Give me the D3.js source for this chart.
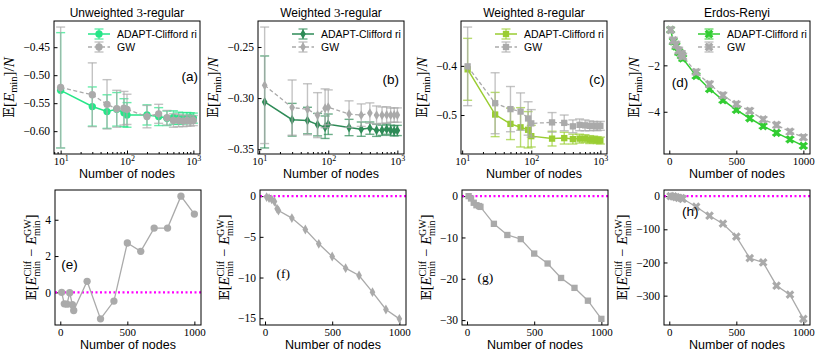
<!DOCTYPE html>
<html>
<head>
<meta charset="utf-8">
<script src="https://cdn.jsdelivr.net/npm/d3@7"></script>
<style>
  body { margin: 0; background: #fff; }
</style>
</head>
<body>
<svg id="chart" width="822" height="360"></svg>
<script>
// ---- data ----
const nodesA = [10, 30, 50, 70, 90, 100, 200, 300, 400, 500, 600, 700, 800, 900, 1000];
const nodesB = [12, 30, 50, 70, 90, 100, 200, 300, 400, 500, 600, 700, 800, 900, 1000];

// (a) unweighted 3-regular, E[E_min]/N
const adaptU3 = [-0.527, -0.556, -0.565, -0.561, -0.567, -0.571, -0.571, -0.574, -0.577, -0.5756, -0.577, -0.577, -0.5766, -0.576, -0.5767];
const adaptU3Err = [0.103, 0.035, 0.03, 0.03, 0.025, 0.022, 0.018, 0.016, 0.013, 0.012, 0.011, 0.01, 0.01, 0.009, 0.009];
const gwU3 = [-0.522, -0.535, -0.552, -0.560, -0.559, -0.561, -0.574, -0.569, -0.576, -0.581, -0.581, -0.582, -0.581, -0.582, -0.581];
const gwU3Err = [0.108, 0.057, 0.044, 0.033, 0.03, 0.027, 0.02, 0.017, 0.013, 0.012, 0.011, 0.01, 0.01, 0.009, 0.009];

// (b) weighted 3-regular
const adaptW3 = [-0.3038, -0.3212, -0.322, -0.326, -0.3285, -0.3256, -0.3288, -0.3304, -0.3294, -0.3315, -0.3315, -0.3304, -0.3315, -0.3321, -0.3317];
const adaptW3Err = [0.045, 0.016, 0.013, 0.011, 0.011, 0.010, 0.008, 0.007, 0.006, 0.006, 0.005, 0.005, 0.005, 0.005, 0.005];
const gwW3 = [-0.2875, -0.3093, -0.311, -0.3167, -0.310, -0.309, -0.3157, -0.3167, -0.3147, -0.3167, -0.3167, -0.3165, -0.3167, -0.3166, -0.3166];
const gwW3Err = [0.057, 0.027, 0.025, 0.022, 0.019, 0.017, 0.013, 0.011, 0.010, 0.009, 0.008, 0.008, 0.007, 0.007, 0.007];

// (c) weighted 8-regular
const adaptW8 = [-0.407, -0.499, -0.518, -0.525, -0.530, -0.543, -0.548, -0.547, -0.549, -0.548, -0.548, -0.550, -0.550, -0.551, -0.552];
const adaptW8Err = [0.063, 0.045, 0.032, 0.04, 0.037, 0.022, 0.015, 0.012, 0.01, 0.009, 0.008, 0.008, 0.007, 0.007, 0.007];
const gwW8 = [-0.401, -0.476, -0.488, -0.493, -0.507, -0.517, -0.515, -0.516, -0.523, -0.520, -0.521, -0.522, -0.522, -0.523, -0.522];
const gwW8Err = [0.08, 0.062, 0.046, 0.038, 0.034, 0.028, 0.02, 0.016, 0.013, 0.012, 0.011, 0.01, 0.009, 0.009, 0.009];

// (d) Erdos-Renyi
const adaptER = [-0.47, -0.97, -1.18, -1.43, -1.57, -1.70, -2.45, -3.02, -3.50, -3.92, -4.28, -4.62, -4.91, -5.19, -5.47];
const adaptERErr = [0.1, 0.12, 0.12, 0.12, 0.12, 0.11, 0.1, 0.1, 0.1, 0.09, 0.09, 0.09, 0.09, 0.09, 0.09];
const gwER = [-0.47, -0.93, -1.11, -1.36, -1.50, -1.61, -2.29, -2.81, -3.29, -3.67, -3.96, -4.33, -4.57, -4.86, -5.10];
const gwERErr = [0.12, 0.14, 0.14, 0.14, 0.13, 0.13, 0.12, 0.12, 0.12, 0.11, 0.11, 0.11, 0.11, 0.11, 0.11];

// (e)-(h) E[E_min^Clif - E_min^GW]
const diffU3 = [0, -0.63, -0.65, -0.02, -0.68, -1.0, 0.61, -1.46, -0.48, 2.72, 2.26, 3.54, 3.54, 5.3, 4.31];
const diffW3 = [-0.12, -0.25, -0.4, -0.66, -1.56, -1.76, -2.7, -4.1, -5.86, -7.42, -8.85, -9.75, -11.8, -13.93, -15.08];
const diffW8 = [0, -0.57, -1.6, -2.2, -2.4, -2.6, -6.7, -9.4, -10.4, -13.9, -16.3, -19.8, -22.2, -25.3, -29.7];
const diffER = [0, -1, -3, -5, -6, -8, -32, -59, -83, -122, -187, -200, -270, -297, -370];

// tick values
const logTicks = [10, 100, 1000];
const linTicks = [0, 500, 1000];
const yTicksU3 = [-0.60, -0.55, -0.50, -0.45];
const yTicksW3 = [-0.35, -0.30, -0.25];
const yTicksW8 = [-0.5, -0.4];
const yTicksER = [-4, -2];
const yTicksDU3 = [0, 2, 4];
const yTicksDW3 = [-15, -10, -5, 0];
const yTicksDW8 = [-30, -20, -10, 0];
const yTicksDER = [-300, -200, -100, 0];

const seriesNames = ['ADAPT-Clifford ri', 'GW'];

// ---- styling ----
const SERIF = '"Liberation Serif", "DejaVu Serif", serif';
const SANS = '"Liberation Sans", "DejaVu Sans", sans-serif';
const GRAY = '#aaaaaa';
const MAGENTA = '#ff00ff';
const W = 146;

const svg = d3.select('#chart');

const markerSize = { circle: 42, diamond: 28, square: 40, x: 48 };
const symbolType = { circle: d3.symbolCircle, diamond: d3.symbolDiamond, square: d3.symbolSquare, x: d3.symbolCross };

function markerPath(kind) {
    return d3.symbol(symbolType[kind], markerSize[kind])();
}
function markerRot(kind) {
    return kind === 'x' ? ' rotate(45)' : '';
}

function makeX(nodes, log, w) {
    const ext = d3.extent(nodes);
    if (log) {
        const l0 = Math.log10(ext[0]), l1 = Math.log10(ext[1]), m = (l1 - l0) * 0.05;
        return d3.scaleLog().domain([10 ** (l0 - m), 10 ** (l1 + m)]).range([0, w]);
    }
    const m = (ext[1] - ext[0]) * 0.05;
    return d3.scaleLinear().domain([ext[0] - m, ext[1] + m]).range([0, w]);
}

function padDomain(lo, hi) {
    const m = (hi - lo) * 0.05;
    return [lo - m, hi + m];
}

function drawAxes(g, x, y, p, w, h) {
    // x axis
    const xAxis = d3.axisBottom(x)
        .tickValues(p.log ? logTicks : linTicks)
        .tickSizeInner(-3.5).tickSizeOuter(0).tickPadding(3.5)
        .tickFormat(p.log ? () => '' : d3.format('d'));
    const xg = g.append('g').attr('transform', `translate(0,${h})`).call(xAxis)
        .attr('font-family', SERIF).attr('font-size', 11);
    xg.select('.domain').remove();
    if (p.log) {
        xg.selectAll('.tick text').each(function (d) {
            const t = d3.select(this);
            t.text('10');
            t.append('tspan').attr('dy', -4.5).attr('font-size', 8).text(Math.round(Math.log10(d)));
        });
        const minor = [];
        [1, 10, 100, 1000].forEach(b => d3.range(2, 10).forEach(m => {
            const v = b * m;
            if (v >= x.domain()[0] && v <= x.domain()[1]) minor.push(v);
        }));
        const mg = g.append('g').attr('transform', `translate(0,${h})`)
            .call(d3.axisBottom(x).tickValues(minor).tickSizeInner(-2).tickSizeOuter(0).tickFormat(() => ''));
        mg.select('.domain').remove();
    }

    // y axis
    const yAxis = d3.axisLeft(y)
        .tickValues(p.yTicks)
        .tickSizeInner(-3.5).tickSizeOuter(0).tickPadding(4)
        .tickFormat(d3.format(p.fmt));
    const yg = g.append('g').call(yAxis)
        .attr('font-family', SERIF).attr('font-size', 11.5);
    yg.select('.domain').remove();
    return yg;
}

function frame(g, w, h) {
    g.append('rect').attr('width', w).attr('height', h)
        .attr('fill', 'none').attr('stroke', '#000').attr('stroke-width', 1);
}

function xLabel(g, w, h) {
    g.append('text').attr('x', w / 2).attr('y', h + 24)
        .attr('text-anchor', 'middle').attr('font-family', SANS).attr('font-size', 12.5)
        .text('Number of nodes');
}

function yLabelTop(g, cx, cy) {
    const t = g.append('text').attr('transform', `translate(${cx},${cy}) rotate(-90)`)
        .attr('text-anchor', 'middle').attr('font-family', SERIF).attr('font-size', 15);
    t.append('tspan').attr('font-family', '"DejaVu Serif", "DejaVu Sans"').attr('font-size', 14).text('𝔼');
    t.append('tspan').text('[');
    t.append('tspan').attr('font-style', 'italic').text('E');
    t.append('tspan').attr('font-size', 10.5).attr('dy', 3).text('min');
    t.append('tspan').attr('dy', -3).text(']/');
    t.append('tspan').attr('font-style', 'italic').text('N');
}

function yLabelDiff(g, cx, cy) {
    const t = g.append('text').attr('transform', `translate(${cx},${cy}) rotate(-90)`)
        .attr('text-anchor', 'middle').attr('font-family', SERIF).attr('font-size', 14.5);
    t.append('tspan').attr('font-family', '"DejaVu Serif", "DejaVu Sans"').attr('font-size', 13.5).text('𝔼');
    t.append('tspan').text('[');
    const pair = (sup, first) => {
        t.append('tspan').attr('font-style', 'italic').attr('dx', first ? 0 : 4).text('E');
        const s1 = t.append('tspan').attr('font-size', 10).attr('dy', -5.5).text(sup);
        const l1 = s1.node().getComputedTextLength();
        const s2 = t.append('tspan').attr('font-size', 10).attr('dx', -l1).attr('dy', 9).text('min');
        const l2 = s2.node().getComputedTextLength();
        return Math.max(0, l1 - l2);
    };
    const gap = pair('Clif', true);
    t.append('tspan').attr('dx', gap + 4).attr('dy', -3.5).text('−');
    const gap2 = pair('GW', false);
    t.append('tspan').attr('dx', gap2).attr('dy', -3.5).text(']');
}

function title(g, w, parts) {
    const t = g.append('text').attr('x', w / 2).attr('y', -4)
        .attr('text-anchor', 'middle').attr('font-family', SANS).attr('font-size', 12);
    parts.forEach(([s, serif]) => {
        const sp = t.append('tspan').text(s);
        if (serif) sp.attr('font-family', SERIF).attr('font-size', 13);
    });
}

function tag(g, w, h, p) {
    g.append('text').attr('x', p.tagAt[0] * w).attr('y', p.tagAt[1] * h + 4.5)
        .attr('text-anchor', 'middle').attr('font-family', p.tagSerif ? SERIF : SANS)
        .attr('font-size', 13.5).text(p.tag);
}

function drawSeries(g, x, y, nodes, vals, errs, color, kind, dashed) {
    const rows = nodes.map((n, i) => ({ n, v: vals[i], e: errs[i] }));
    const s = g.append('g');
    const eb = s.append('g').attr('stroke', color).attr('stroke-opacity', 0.7).attr('stroke-width', 1.4);
    eb.selectAll('line.bar').data(rows).join('line').attr('class', 'bar')
        .attr('x1', d => x(d.n)).attr('x2', d => x(d.n))
        .attr('y1', d => y(d.v - d.e)).attr('y2', d => y(d.v + d.e));
    eb.selectAll('line.capLo').data(rows).join('line').attr('class', 'capLo')
        .attr('x1', d => x(d.n) - 4.5).attr('x2', d => x(d.n) + 4.5)
        .attr('y1', d => y(d.v - d.e)).attr('y2', d => y(d.v - d.e));
    eb.selectAll('line.capHi').data(rows).join('line').attr('class', 'capHi')
        .attr('x1', d => x(d.n) - 4.5).attr('x2', d => x(d.n) + 4.5)
        .attr('y1', d => y(d.v + d.e)).attr('y2', d => y(d.v + d.e));
    s.append('path').datum(rows)
        .attr('fill', 'none').attr('stroke', color).attr('stroke-width', dashed ? 1.3 : 1.5)
        .attr('stroke-dasharray', dashed ? '4,2.5' : null)
        .attr('d', d3.line().x(d => x(d.n)).y(d => y(d.v)));
    s.selectAll('path.pt').data(rows).join('path').attr('class', 'pt')
        .attr('d', markerPath(kind)).attr('fill', color)
        .attr('transform', d => `translate(${x(d.n)},${y(d.v)})${markerRot(kind)}`);
}

function legend(g, w, color, kind) {
    const lg = g.append('g').attr('transform', `translate(${w - 112},13)`);
    [color, GRAY].forEach((c, i) => {
        const r = lg.append('g').attr('transform', `translate(0,${i * 13})`);
        r.append('line').attr('x1', 0).attr('x2', 22).attr('stroke', c)
            .attr('stroke-width', i ? 1.3 : 1.5).attr('stroke-dasharray', i ? '4,2.5' : null);
        const eb = r.append('g').attr('stroke', c).attr('stroke-opacity', 0.7).attr('stroke-width', 1.4);
        eb.append('line').attr('x1', 11).attr('x2', 11).attr('y1', -5).attr('y2', 5);
        eb.append('line').attr('x1', 6.5).attr('x2', 15.5).attr('y1', -5).attr('y2', -5);
        eb.append('line').attr('x1', 6.5).attr('x2', 15.5).attr('y1', 5).attr('y2', 5);
        r.append('path').attr('d', markerPath(kind)).attr('fill', c)
            .attr('transform', `translate(11,0)${markerRot(kind)}`);
        r.append('text').attr('x', 29).attr('y', 4).attr('font-family', SANS)
            .attr('font-size', 10.5).text(seriesNames[i]);
    });
}

// ---- panels ----
const topPanels = [
    { left: 54, title: [['Unweighted ', 0], ['3', 1], ['-regular', 0]], log: true, nodes: nodesA,
      adapt: adaptU3, adaptErr: adaptU3Err, gw: gwU3, gwErr: gwU3Err, color: '#26e688', marker: 'circle',
      yTicks: yTicksU3, fmt: '.2f', tag: '(a)', tagAt: [0.93, 0.42] },
    { left: 258, title: [['Weighted ', 0], ['3', 1], ['-regular', 0]], log: true, nodes: nodesB,
      adapt: adaptW3, adaptErr: adaptW3Err, gw: gwW3, gwErr: gwW3Err, color: '#2e8b57', marker: 'diamond',
      yTicks: yTicksW3, fmt: '.2f', tag: '(b)', tagAt: [0.91, 0.44] },
    { left: 461, title: [['Weighted ', 0], ['8', 1], ['-regular', 0]], log: true, nodes: nodesB,
      adapt: adaptW8, adaptErr: adaptW8Err, gw: gwW8, gwErr: gwW8Err, color: '#9acd32', marker: 'square',
      yTicks: yTicksW8, fmt: '.1f', tag: '(c)', tagAt: [0.93, 0.44] },
    { left: 664, title: [['Erdos-Renyi', 0]], log: false, nodes: nodesA,
      adapt: adaptER, adaptErr: adaptERErr, gw: gwER, gwErr: gwERErr, color: '#32cd32', marker: 'x',
      yTicks: yTicksER, fmt: 'd', tag: '(d)', tagAt: [0.11, 0.46] }
];

const bottomPanels = [
    { left: 55, nodes: nodesA, diff: diffU3, marker: 'circle', yTicks: yTicksDU3, fmt: 'd', tag: '(e)', tagAt: [0.10, 0.55] },
    { left: 260, nodes: nodesB, diff: diffW3, marker: 'diamond', yTicks: yTicksDW3, fmt: 'd', tag: '(f)', tagAt: [0.16, 0.62], tagSerif: true },
    { left: 462, nodes: nodesB, diff: diffW8, marker: 'square', yTicks: yTicksDW8, fmt: 'd', tag: '(g)', tagAt: [0.16, 0.65], tagSerif: true },
    { left: 664, nodes: nodesA, diff: diffER, marker: 'x', yTicks: yTicksDER, fmt: 'd', tag: '(h)', tagAt: [0.18, 0.16] }
];

const TOP_Y = 21, TOP_H = 133;
const BOT_Y = 190, BOT_H = 135;

topPanels.forEach(p => {
    const g = svg.append('g').attr('transform', `translate(${p.left},${TOP_Y})`);
    const x = makeX(p.nodes, p.log, W);
    const lo = d3.min([...p.adapt.map((v, i) => v - p.adaptErr[i]), ...p.gw.map((v, i) => v - p.gwErr[i])]);
    const hi = d3.max([...p.adapt.map((v, i) => v + p.adaptErr[i]), ...p.gw.map((v, i) => v + p.gwErr[i])]);
    const y = d3.scaleLinear().domain(padDomain(lo, hi)).range([TOP_H, 0]);

    const yg = drawAxes(g, x, y, p, W, TOP_H);
    drawSeries(g, x, y, p.nodes, p.adapt, p.adaptErr, p.color, p.marker, false);
    drawSeries(g, x, y, p.nodes, p.gw, p.gwErr, GRAY, p.marker, true);
    frame(g, W, TOP_H);
    legend(g, W, p.color, p.marker);
    title(g, W, p.title);
    xLabel(g, W, TOP_H);
    tag(g, W, TOP_H, p);
    const bb = yg.node().getBBox();
    yLabelTop(g, bb.x - 9, TOP_H / 2);
});

bottomPanels.forEach(p => {
    const g = svg.append('g').attr('transform', `translate(${p.left},${BOT_Y})`);
    const x = makeX(p.nodes, false, W);
    const ext = d3.extent([0, ...p.diff]);
    const y = d3.scaleLinear().domain(padDomain(ext[0], ext[1])).range([BOT_H, 0]);

    const yg = drawAxes(g, x, y, { log: false, yTicks: p.yTicks, fmt: p.fmt }, W, BOT_H);
    g.append('line').attr('x1', 0).attr('x2', W).attr('y1', y(0)).attr('y2', y(0))
        .attr('stroke', MAGENTA).attr('stroke-width', 2.2).attr('stroke-dasharray', '2,2.5');
    const rows = p.nodes.map((n, i) => ({ n, v: p.diff[i] }));
    g.append('path').datum(rows).attr('fill', 'none').attr('stroke', GRAY).attr('stroke-width', 1.3)
        .attr('d', d3.line().x(d => x(d.n)).y(d => y(d.v)));
    g.selectAll('path.pt').data(rows).join('path').attr('class', 'pt')
        .attr('d', markerPath(p.marker)).attr('fill', GRAY)
        .attr('transform', d => `translate(${x(d.n)},${y(d.v)})${markerRot(p.marker)}`);
    frame(g, W, BOT_H);
    xLabel(g, W, BOT_H);
    tag(g, W, BOT_H, p);
    const bb = yg.node().getBBox();
    yLabelDiff(g, bb.x - 9, BOT_H / 2);
});
</script>
</body>
</html>
